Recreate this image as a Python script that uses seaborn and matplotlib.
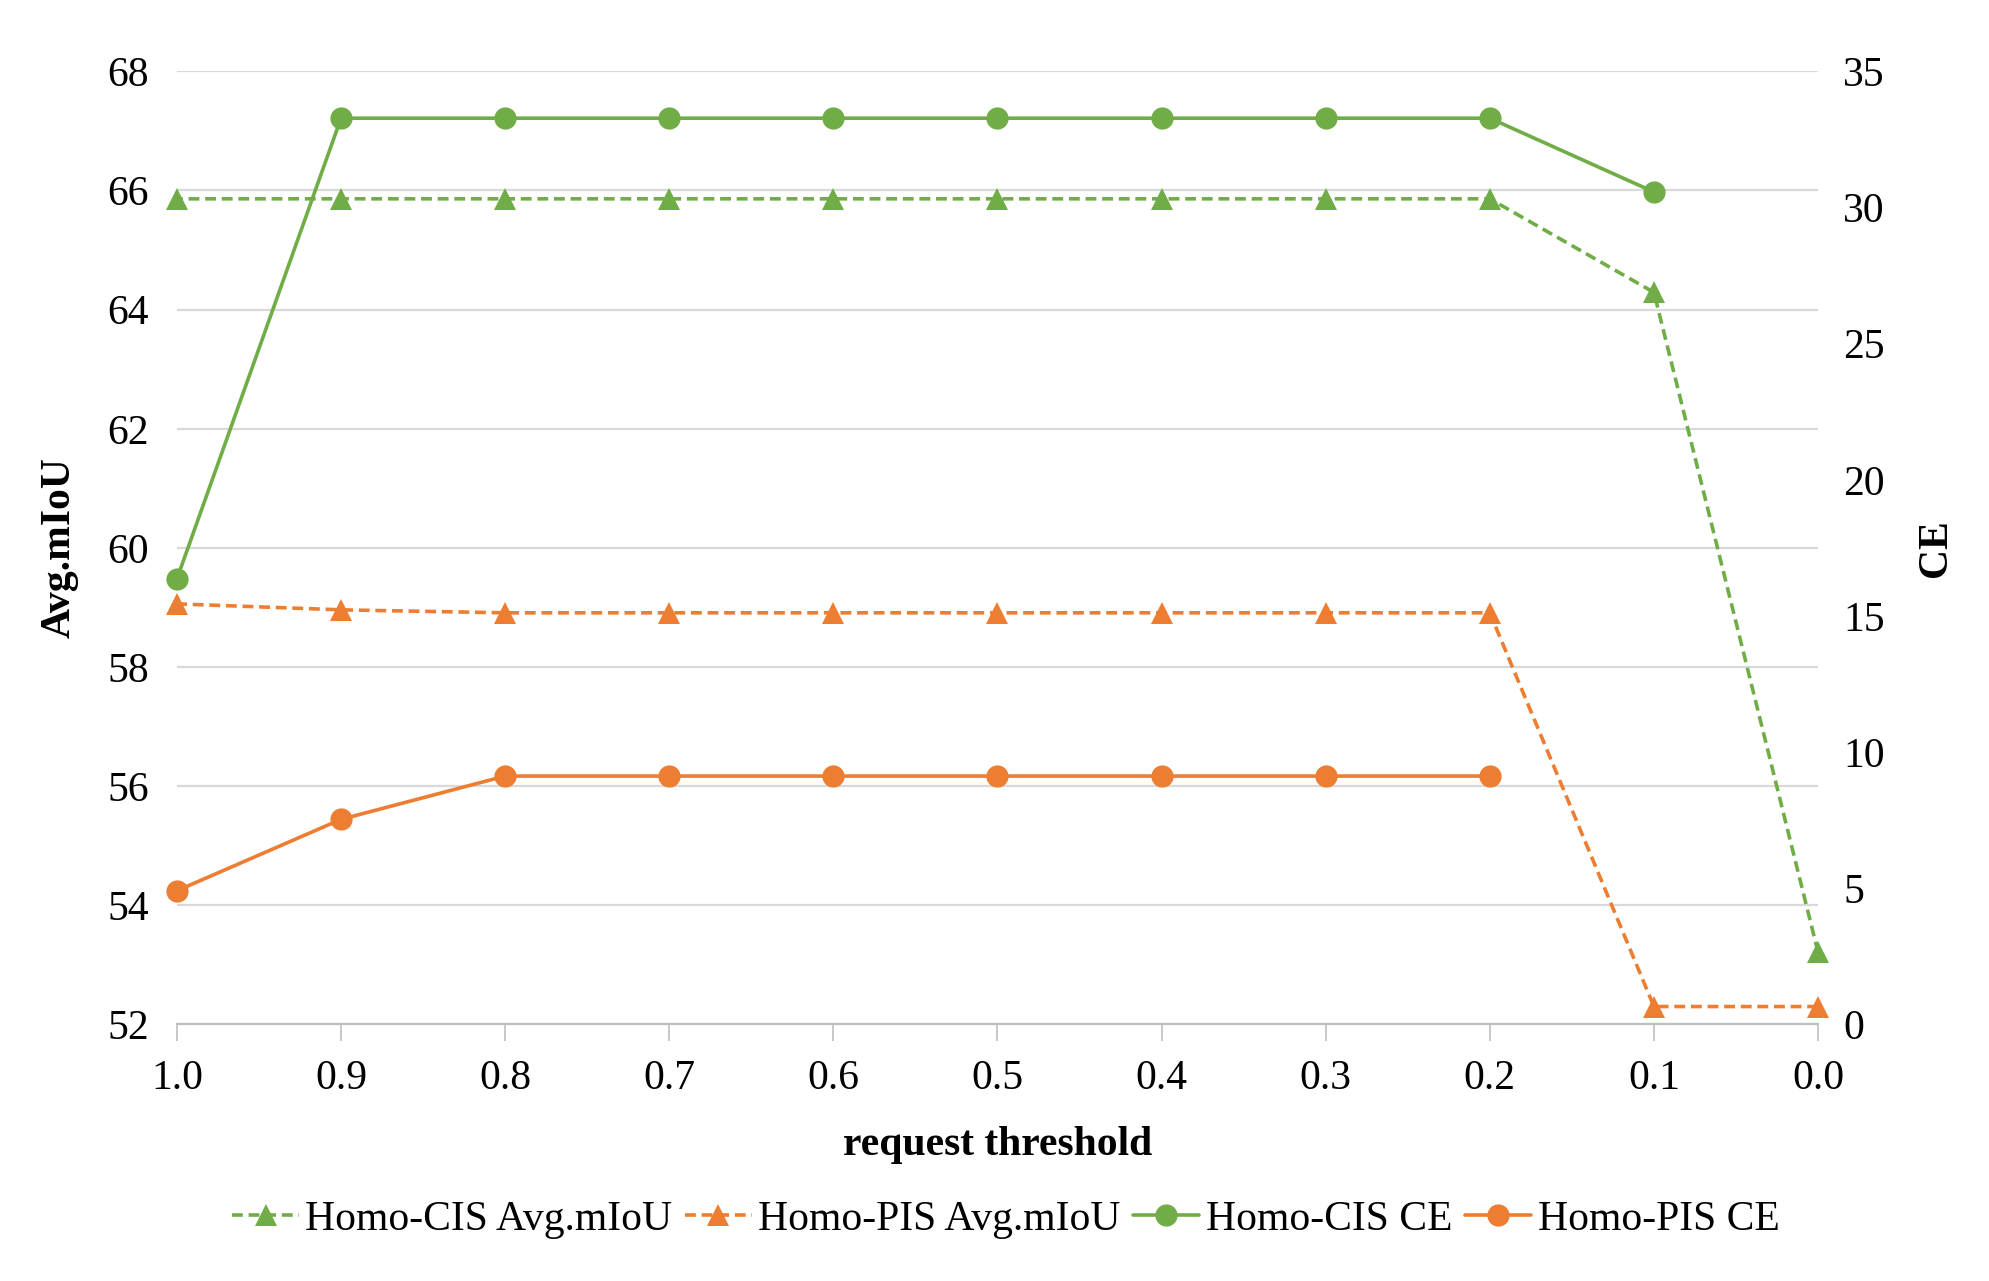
import numpy as np
import pandas as pd
import matplotlib
matplotlib.use('Agg')
import matplotlib.pyplot as plt
import seaborn as sns

# request threshold (x axis runs from 1.0 down to 0.0)
thresholds = [1.0, 0.9, 0.8, 0.7, 0.6, 0.5, 0.4, 0.3, 0.2, 0.1, 0.0]

# left axis: Avg.mIoU
cis_miou = [65.86, 65.86, 65.86, 65.86, 65.86, 65.86, 65.86, 65.86, 65.86, 64.29, 53.21]
pis_miou = [59.06, 58.96, 58.91, 58.91, 58.91, 58.91, 58.91, 58.91, 58.91, 52.30, 52.30]

# right axis: CE
cis_ce = [16.36, 33.28, 33.28, 33.28, 33.28, 33.28, 33.28, 33.28, 33.28, 30.57, np.nan]
pis_ce = [4.91, 7.53, 9.12, 9.12, 9.12, 9.12, 9.12, 9.12, 9.12, np.nan, np.nan]

green = '#70AD47'
orange = '#ED7D31'

df = pd.DataFrame({'threshold': thresholds,
                   'cis_miou': cis_miou, 'pis_miou': pis_miou,
                   'cis_ce': cis_ce, 'pis_ce': pis_ce})

sns.set_theme(style='white')
plt.rcParams['font.family'] = ['Liberation Serif', 'DejaVu Serif']
plt.rcParams['font.size'] = 15
plt.rcParams['text.color'] = 'black'
plt.rcParams['axes.labelcolor'] = 'black'

fig = plt.figure(figsize=(9.95, 6.405), dpi=200)
ax = fig.add_axes([0.0889, 0.2003, 0.8247, 0.7440])
ax2 = ax.twinx()

lw = 1.3
ms = 8
dash = (3, 1.6)

sns.lineplot(data=df, x='threshold', y='cis_miou', ax=ax, color=green, lw=lw,
             marker='^', markersize=ms, markeredgewidth=0, dashes=False,
             label='Homo-CIS Avg.mIoU', legend=False, clip_on=False)
sns.lineplot(data=df, x='threshold', y='pis_miou', ax=ax, color=orange, lw=lw,
             marker='^', markersize=ms, markeredgewidth=0, dashes=False,
             label='Homo-PIS Avg.mIoU', legend=False, clip_on=False)
for line in ax.get_lines():
    line.set_dashes(dash)

sns.lineplot(data=df, x='threshold', y='cis_ce', ax=ax2, color=green, lw=lw,
             marker='o', markersize=ms, markeredgewidth=0,
             label='Homo-CIS CE', legend=False, clip_on=False)
sns.lineplot(data=df, x='threshold', y='pis_ce', ax=ax2, color=orange, lw=lw,
             marker='o', markersize=ms, markeredgewidth=0,
             label='Homo-PIS CE', legend=False, clip_on=False)

ax.set_xlim(1.0, 0.0)
ax.set_ylim(52, 68)
ax.set_yticks(np.arange(52, 69, 2))
ax2.set_ylim(0, 35)
ax2.set_yticks(np.arange(0, 36, 5))
ax.set_xticks(thresholds)
ax.set_xticklabels([f'{t:.1f}' for t in thresholds])

ax.grid(axis='y', color='#d9d9d9', lw=0.8)
ax.grid(axis='x', visible=False)
ax2.grid(False)
ax.set_axisbelow(True)

for a in (ax, ax2):
    for s in ('top', 'left', 'right', 'bottom'):
        a.spines[s].set_visible(False)
ax.spines['bottom'].set_visible(True)
ax.spines['bottom'].set_color('#bfbfbf')
ax.spines['bottom'].set_linewidth(0.8)

ax.tick_params(axis='x', bottom=True, length=6, width=0.6, color='#bfbfbf',
               pad=6.5, labelsize=15, labelcolor='black')
ax.tick_params(axis='y', left=False, length=0, pad=10, labelsize=15, labelcolor='black')
ax2.tick_params(axis='y', right=False, length=0, pad=9, labelsize=15, labelcolor='black')

ax.set_xlabel('request threshold', fontsize=15, fontweight='bold')
ax.set_ylabel('Avg.mIoU', fontsize=15, fontweight='bold')
ax2.set_ylabel('CE', fontsize=15, fontweight='bold')
ax.xaxis.set_label_coords(0.5, -0.107)
ax.yaxis.set_label_coords(-0.060, 0.5)
ax2.yaxis.set_label_coords(1.060, 0.5)

h1, l1 = ax.get_legend_handles_labels()
h2, l2 = ax2.get_legend_handles_labels()
fig.legend(h1 + h2, l1 + l2, loc='center', bbox_to_anchor=(0.5055, 0.048),
           ncol=4, frameon=False, fontsize=15, handlelength=1.6,
           handletextpad=0.15, columnspacing=0.3)

fig.savefig('out.png', dpi=200, facecolor='white')
